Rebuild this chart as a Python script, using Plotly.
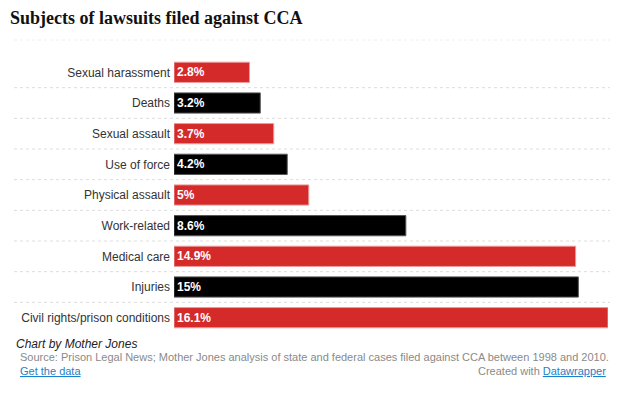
import plotly.graph_objects as go

categories = [
    'Sexual harassment', 'Deaths', 'Sexual assault', 'Use of force',
    'Physical assault', 'Work-related', 'Medical care', 'Injuries',
    'Civil rights/prison conditions',
]
values = [2.8, 3.2, 3.7, 4.2, 5, 8.6, 14.9, 15, 16.1]
value_labels = ['2.8%', '3.2%', '3.7%', '4.2%', '5%', '8.6%', '14.9%', '15%', '16.1%']

# page body has an 8px margin, so the figure is drawn 8px smaller and offset
OFF = 8
W, H = 640 - OFF, 409 - OFF
ML, MR, MT, MB = 174 - OFF, 32, 57 - OFF, 76
pw = W - ML - MR
ph = H - MT - MB


def px(x):
    return (x - OFF - ML) / pw


def py(y):
    return (H - MB - (y - OFF)) / ph


red, black = '#d52a2a', '#000000'
bar_colors = [red if i % 2 == 0 else black for i in range(len(categories))]
line_colors = ['#ee9a9a' if i % 2 == 0 else '#555555' for i in range(len(categories))]

fig = go.Figure(go.Bar(
    x=values,
    y=categories,
    orientation='h',
    width=0.66,
    marker=dict(color=bar_colors, line=dict(color=line_colors, width=1)),
    text=['<b>' + t + '</b>' for t in value_labels],
    textposition='inside',
    insidetextanchor='start',
    textangle=0,
    constraintext='none',
    textfont=dict(family='Liberation Sans', size=12, color='white'),
    hoverinfo='skip',
))

# dotted row separators
shapes = []
for i in range(len(categories) - 1):
    shapes.append(dict(
        type='line', xref='paper', yref='y',
        x0=px(14), x1=px(610), y0=i + 0.5, y1=i + 0.5,
        line=dict(color='#dddddd', width=1, dash='dot'),
        layer='below',
    ))
shapes.append(dict(
    type='line', xref='paper', yref='paper',
    x0=px(14), x1=px(610), y0=py(40), y1=py(40),
    line=dict(color='#f0f0f0', width=1, dash='dot'),
    layer='below',
))

foot = dict(family='Liberation Sans', size=11, color='#8a8a8a')
annotations = [
    dict(text='<i>Chart by Mother Jones</i>', x=px(14), y=py(344),
         font=dict(family='Liberation Sans', size=12, color='#222222')),
    dict(text='Source: Prison Legal News; Mother Jones analysis of state and federal cases filed against CCA between 1998 and 2010.',
         x=px(18), y=py(357), font=foot),
    dict(text='<u>Get the data</u>', x=px(18), y=py(371),
         font=dict(family='Liberation Sans', size=11, color='#1d81c9')),
    dict(text='Created with <span style="color:#1d81c9"><u>Datawrapper</u></span>',
         x=px(608), y=py(371), xanchor='right', font=foot),
]
for a in annotations:
    a.setdefault('xanchor', 'left')
    a.update(xref='paper', yref='paper', yanchor='middle', showarrow=False)

fig.update_layout(
    width=W, height=H,
    margin=dict(l=ML, r=MR, t=MT, b=MB),
    paper_bgcolor='white', plot_bgcolor='white',
    title=dict(
        text='<b>Subjects of lawsuits filed against CCA</b>',
        font=dict(family='Liberation Serif', size=18, color='#111111'),
        x=(10 - OFF) / W, xanchor='left', xref='container',
        y=1 - (18 - OFF) / H, yanchor='middle', yref='container',
    ),
    xaxis=dict(range=[0, 16.1], visible=False, fixedrange=True),
    yaxis=dict(
        autorange='reversed', showgrid=False, zeroline=False, showline=False,
        ticks='', ticklabelstandoff=3,
        tickfont=dict(family='Liberation Sans', size=12, color='#333333'),
        fixedrange=True,
    ),
    bargap=0.34,
    shapes=shapes,
    annotations=annotations,
    showlegend=False,
)

fig.write_html('out.html', config={'displayModeBar': False})
